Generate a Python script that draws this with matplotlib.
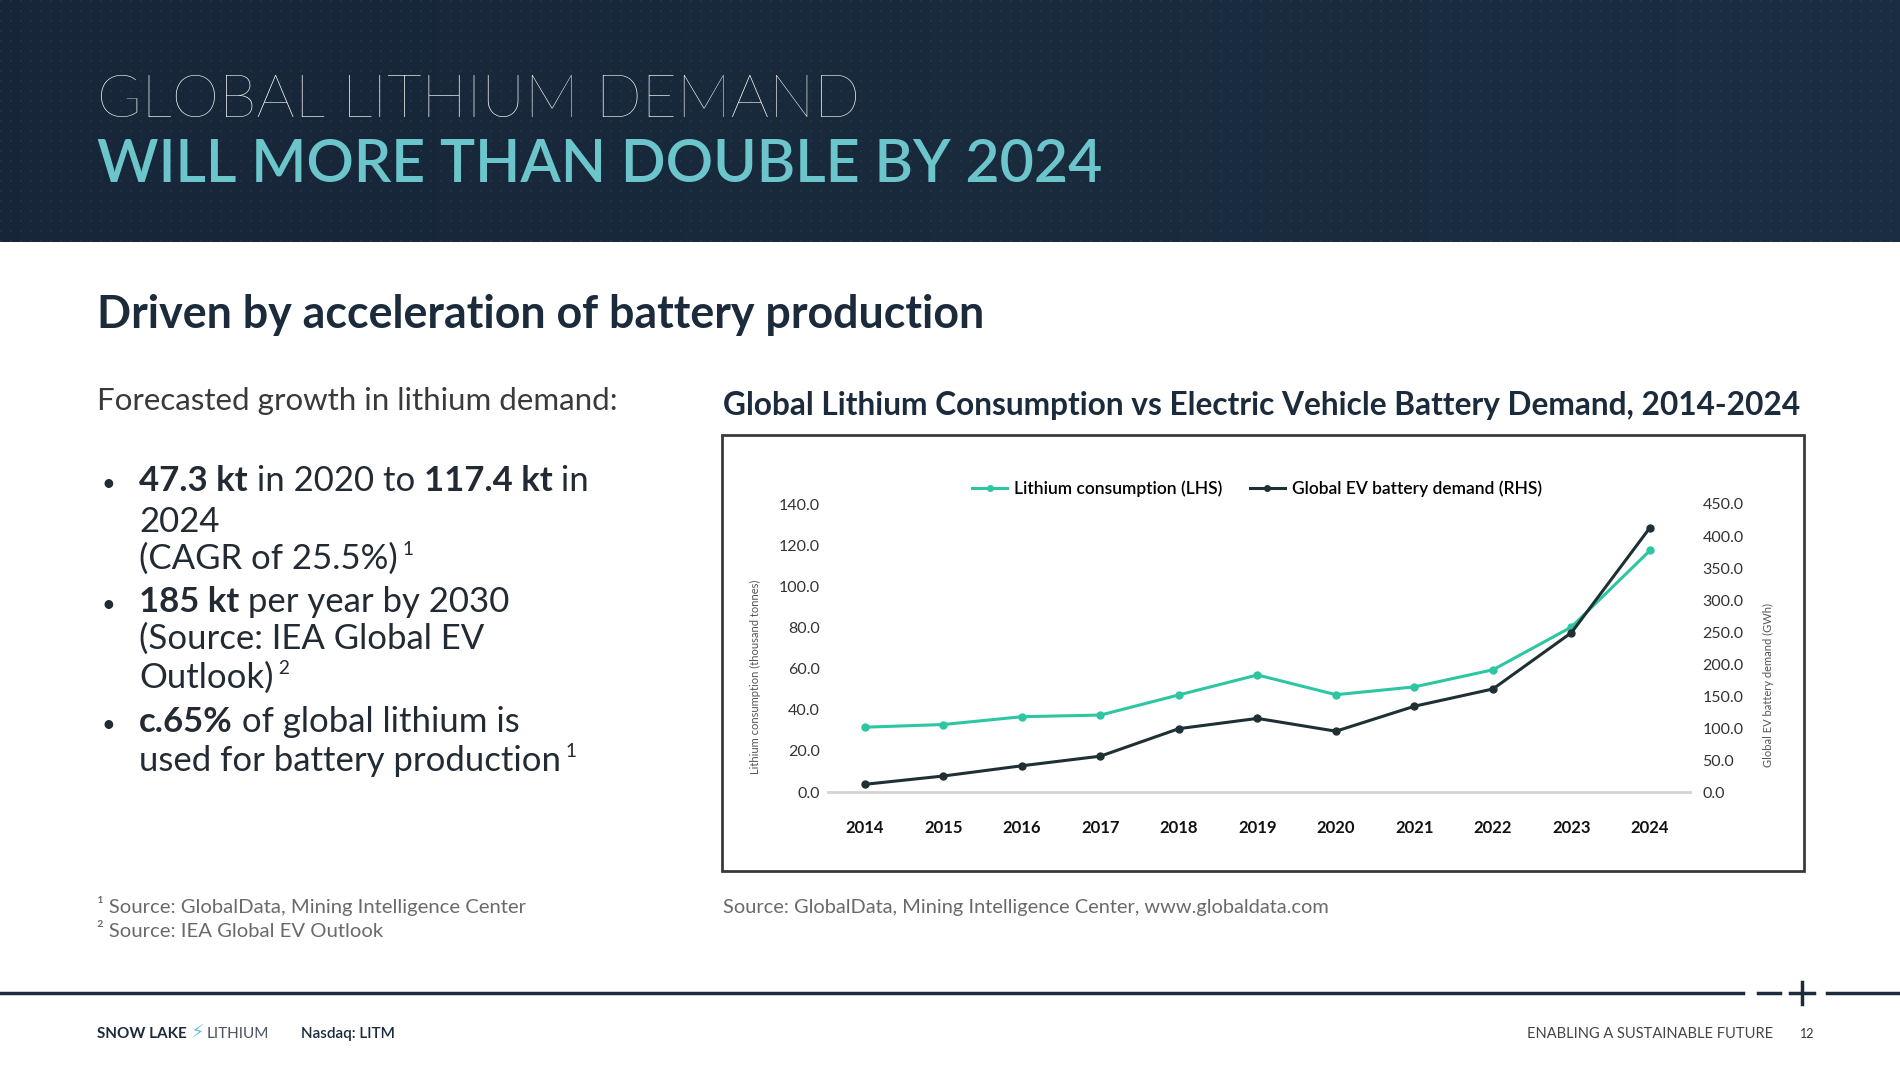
import numpy as np
import matplotlib
matplotlib.use("Agg")
import matplotlib.pyplot as plt
from matplotlib.patches import Rectangle
from matplotlib.lines import Line2D

# chart data
years = [2014, 2015, 2016, 2017, 2018, 2019, 2020, 2021, 2022, 2023, 2024]
lithium_kt = [31.5, 32.8, 36.6, 37.4, 47.2, 56.9, 47.3, 51.1, 59.4, 80.2, 117.4]
ev_gwh = [12, 25, 41, 56, 99, 115, 95, 134, 161, 249, 413]
left_ticks = [0, 20, 40, 60, 80, 100, 120, 140]
right_ticks = [0, 50, 100, 150, 200, 250, 300, 350, 400, 450]

W, H = 1900, 1067
NAVY = "#1b2b3c"
TEAL = "#6cc5cb"
GREEN = "#2cc6a2"
DARK = "#1f3035"
FONT = "Lato"

plt.rcParams["font.family"] = [FONT, "DejaVu Sans"]

fig = plt.figure(figsize=(19, 10.67), dpi=100)
fig.patch.set_facecolor("white")


def fx(px):
    return px / W


def fy(py):
    return 1 - py / H


# header band with gradient and faint dot texture
hdr = fig.add_axes([0, fy(242), 1, 242 / H])
hdr.set_axis_off()
gx = np.linspace(0, 1, 950)
gy = np.linspace(0, 1, 121)
GX, GY = np.meshgrid(gx, gy)
base = np.array([0.09, 0.15, 0.22])
tint = np.array([0.12, 0.20, 0.28])
img = base[None, None, :] * (1 - GX[..., None] * 0.6) + tint[None, None, :] * (GX[..., None] * 0.6)
dots = ((np.arange(950)[None, :] % 5 == 0) & (np.arange(121)[:, None] % 5 == 0)).astype(float)
img = img + dots[..., None] * 0.04
hdr.imshow(np.clip(img, 0, 1), aspect="auto", extent=[0, 1, 0, 1])
hdr.set_xlim(0, 1)
hdr.set_ylim(0, 1)

renderer = fig.canvas.get_renderer()


def rich(x, y, parts, size, color, va="baseline"):
    # draw text runs one after another on the same baseline
    xp = x
    for text, weight, sup in parts:
        s = size * 0.55 if sup else size
        yy = y - size * 0.55 if sup else y
        t = fig.text(fx(xp), fy(yy), text, fontsize=s, fontweight=weight,
                     color=color, va=va, ha="left")
        bb = t.get_window_extent(renderer)
        xp = bb.x1
    return xp


# headline
fig.text(fx(97), fy(117), "GLOBAL LITHIUM DEMAND", fontsize=43.5, fontweight="light",
         color="white", va="baseline")
fig.text(fx(97), fy(182), "WILL MORE THAN DOUBLE BY 2024", fontsize=42.5, fontweight="semibold",
         color=TEAL, va="baseline")

# sub heading
fig.text(fx(97), fy(328), "Driven by acceleration of battery production", fontsize=32.2,
         fontweight="bold", color=NAVY, va="baseline")
fig.text(fx(97), fy(410), "Forecasted growth in lithium demand:", fontsize=22.5,
         fontweight="normal", color="#3a3a3a", va="baseline")

# bullets
bcol = "#222a33"
bullet_lines = [
    (491, True, [("47.3 kt", "bold", False), (" in 2020 to ", "normal", False),
                 ("117.4 kt", "bold", False), (" in", "normal", False)]),
    (532, False, [("2024", "normal", False)]),
    (569, False, [("(CAGR of 25.5%)", "normal", False), (" 1", "normal", True)]),
    (612, True, [("185 kt", "bold", False), (" per year by 2030", "normal", False)]),
    (649, False, [("(Source: IEA Global EV", "normal", False)]),
    (688, False, [("Outlook)", "normal", False), (" 2", "normal", True)]),
    (732, True, [("c.65%", "bold", False), (" of global lithium is", "normal", False)]),
    (771, False, [("used for battery production", "normal", False), (" 1", "normal", True)]),
]
for yb, has_bullet, parts in bullet_lines:
    if has_bullet:
        fig.text(fx(101), fy(yb), "•", fontsize=17, color=bcol, va="baseline")
    rich(139, yb, parts, 25, bcol)

# footnotes
fig.text(fx(97), fy(913), "¹ Source: GlobalData, Mining Intelligence Center", fontsize=14.6,
         color="#6a6a6a", va="baseline")
fig.text(fx(97), fy(937), "² Source: IEA Global EV Outlook", fontsize=14.6,
         color="#6a6a6a", va="baseline")

# chart title and box
fig.text(fx(723), fy(405), "Global Lithium Consumption vs Electric Vehicle Battery Demand, 2014-2024",
         fontsize=22.8, fontweight="bold", color=NAVY, va="center")
fig.patches.append(Rectangle((fx(722), fy(871)), fx(1804) - fx(722), fy(435) - fy(871),
                             transform=fig.transFigure, fill=False, edgecolor="#3a3a3a",
                             linewidth=2))
fig.text(fx(723), fy(913), "Source: GlobalData, Mining Intelligence Center, www.globaldata.com",
         fontsize=14.4, color="#6a6a6a", va="baseline")

# the chart
ax = fig.add_axes([fx(828), fy(792), fx(1690) - fx(828), 288 / H])
ax2 = ax.twinx()
ax.plot(years, lithium_kt, color=GREEN, lw=2.2, marker="o", ms=5, zorder=3)
ax2.plot(years, ev_gwh, color=DARK, lw=2.2, marker="o", ms=5, zorder=3)

ax.set_xlim(2013.53, 2024.51)
ax.set_ylim(0, 140)
ax2.set_ylim(0, 450)
ax.set_yticks(left_ticks)
ax.set_yticklabels([f"{v:.1f}" for v in left_ticks])
ax2.set_yticks(right_ticks)
ax2.set_yticklabels([f"{v:.1f}" for v in right_ticks])
ax.set_xticks(years)
ax.set_xticklabels([str(y) for y in years], fontweight="bold")

for a in (ax, ax2):
    for sp in a.spines.values():
        sp.set_visible(False)
    a.set_facecolor("none")
ax.spines["bottom"].set_visible(True)
ax.spines["bottom"].set_color("#d4d4d4")
ax.spines["bottom"].set_linewidth(2)

ax.tick_params(axis="y", length=0, pad=6, labelsize=11.5, labelcolor="#333333")
ax2.tick_params(axis="y", length=0, pad=9, labelsize=11.5, labelcolor="#333333")
ax.tick_params(axis="x", length=0, pad=20, labelsize=12, labelcolor="#111111")

ax.set_ylabel("Lithium consumption (thousand tonnes)", fontsize=8, color="#555555", labelpad=10)
ax.yaxis.set_label_coords(-(828 - 761) / 862, 0.40)
ax2.set_ylabel("Global EV battery demand (GWh)", fontsize=8, color="#555555", labelpad=10)
ax2.yaxis.set_label_coords(1 + (1763 - 1690) / 862, 0.37)

handles = [Line2D([], [], color=GREEN, lw=2.2, marker="o", ms=4),
           Line2D([], [], color=DARK, lw=2.2, marker="o", ms=4)]
fig.legend(handles, ["Lithium consumption (LHS)", "Global EV battery demand (RHS)"],
           loc="center", bbox_to_anchor=(fx(1257), fy(489)), ncol=2, frameon=False,
           handlelength=2.0, handletextpad=0.4, columnspacing=1.6,
           prop={"family": FONT, "weight": "semibold", "size": 12.5})

# footer
fig.add_artist(Line2D([0, fx(1743)], [fy(993), fy(993)], color=NAVY, lw=2.5))
fig.add_artist(Line2D([fx(1758), fx(1780)], [fy(993), fy(993)], color=NAVY, lw=2.5))
fig.add_artist(Line2D([fx(1790), fx(1814)], [fy(993), fy(993)], color=NAVY, lw=2.5))
fig.add_artist(Line2D([fx(1802), fx(1802)], [fy(982), fy(1004)], color=NAVY, lw=2.5))
fig.add_artist(Line2D([fx(1827), 1], [fy(993), fy(993)], color=NAVY, lw=2.5))

xe = rich(97, 1038, [("SNOW LAKE", "bold", False)], 11, NAVY)
t = fig.text(xe / W + 0.002, fy(1038), "⚡", fontsize=14, color=TEAL, va="baseline",
             family=["DejaVu Sans"])
xe = t.get_window_extent(renderer).x1
fig.text(xe / W + 0.001, fy(1038), "LITHIUM", fontsize=11, fontweight="normal", color="#4a5560",
         va="baseline")
fig.text(fx(301), fy(1038), "Nasdaq: LITM", fontsize=11, fontweight="semibold", color=NAVY,
         va="baseline")
fig.text(fx(1773), fy(1038), "ENABLING A SUSTAINABLE FUTURE", fontsize=10.5, fontweight="normal",
         color="#444444", va="baseline", ha="right")
fig.text(fx(1814), fy(1038), "12", fontsize=9, color="#333333", va="baseline", ha="right")

fig.savefig("out.png", dpi=100)
